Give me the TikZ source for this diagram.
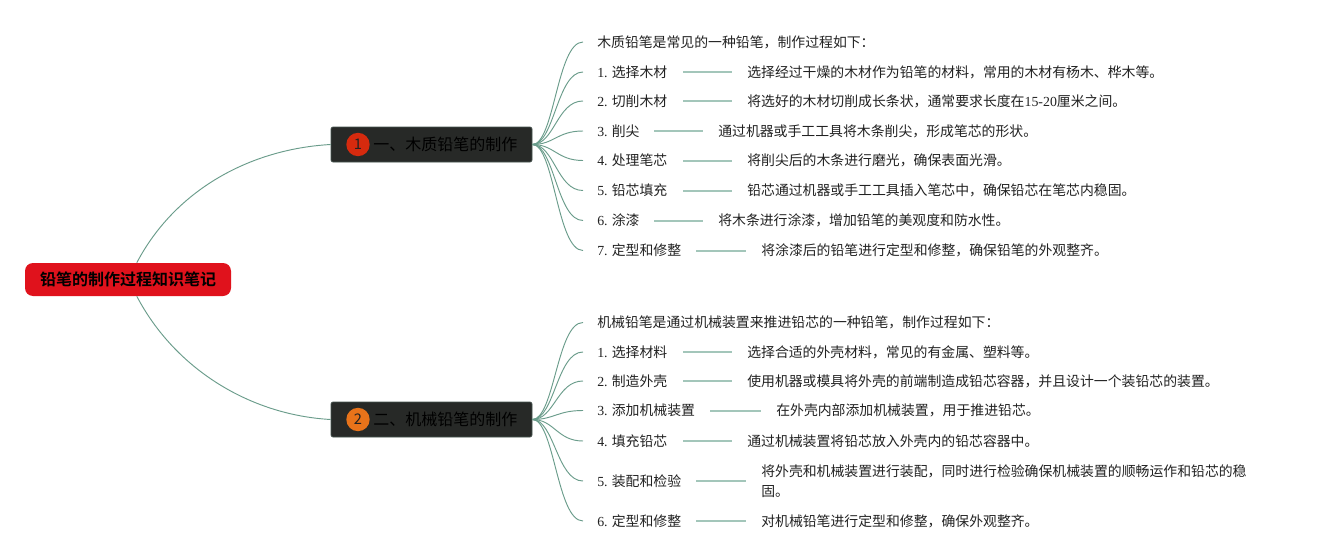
\documentclass[tikz,border=0pt]{standalone}
\usepackage{fontspec}
\setmainfont{Noto Sans CJK SC}[BoldFont={Noto Sans CJK SC Bold}]
\newfontfamily\lat{Liberation Serif}
\definecolor{rootred}{HTML}{E0121C}
\definecolor{bdark}{HTML}{272927}
\definecolor{bborder}{HTML}{46544F}
\definecolor{lnk}{HTML}{6A9C8B}
\definecolor{stepln}{HTML}{A3C6BA}
\definecolor{txt}{HTML}{222222}
\definecolor{cone}{HTML}{D62A0E}
\definecolor{ctwo}{HTML}{E8731A}
\tikzset{
  rootbox/.style={fill=rootred, rounded corners=6pt, minimum width=154.5pt, minimum height=24.75pt, inner sep=0pt, font=\fontsize{12pt}{14pt}\selectfont\bfseries, text=black},
  branchbox/.style={fill=bdark, draw=bborder, line width=0.5pt, rounded corners=1.5pt, minimum width=150.75pt, minimum height=26.25pt, inner sep=0pt},
  branchtext/.style={anchor=west, inner sep=0pt, font=\fontsize{12pt}{14pt}\selectfont, text=black},
  numcircle/.style={circle, minimum size=17.5pt, inner sep=0pt, font=\fontsize{11pt}{13pt}\selectfont, text=txt},
  child/.style={anchor=west, inner xsep=10.5pt, inner ysep=0pt, font=\fontsize{10.4pt}{15pt}\selectfont, text=txt},
  desc/.style={anchor=west, inner xsep=11.25pt, inner ysep=0pt, align=left, font=\fontsize{10.4pt}{15pt}\selectfont, text=txt},
  fan/.style={draw=lnk, line width=0.7pt},
  stepline/.style={draw=stepln, line width=1.5pt},
}
\newcommand\rowstep[6]{%
  \node[child] (l#1) at (583,#2) {#3};
  \coordinate (s#1) at (#4,#2);
  \node[desc] (d#1) at (#5-15,#2) {#6};
  \draw[stepline] (s#1) -- (d#1.west);
}
\begin{document}
\begin{tikzpicture}[x=0.75pt,y=-0.75pt]
\path[use as bounding box, fill=white] (0,0) rectangle (1321,560);

% root and branches
\node[rootbox] (root) at (128,279.5) {铅笔的制作过程知识笔记};
\node[branchbox] (b1) at (431.5,144.5) {};
\node[numcircle, fill=cone] (n1) at (358,144.5) {1};
\node[branchtext] (t1) at (373,144.5) {一、木质铅笔的制作};
\node[branchbox] (b2) at (431.5,419.5) {};
\node[numcircle, fill=ctwo] (n2) at (358,419.5) {2};
\node[branchtext] (t2) at (373,419.5) {二、机械铅笔的制作};

\draw[fan] (root) .. controls (175,190) and (250,149) .. (b1.west);
\draw[fan] (root) .. controls (175,369) and (250,415) .. (b2.west);

% branch 1 children
\node[child] (la0) at (583,42) {木质铅笔是常见的一种铅笔，制作过程如下：};
\rowstep{a1}{72}{{\lat 1.} 选择木材}{683}{747}{选择经过干燥的木材作为铅笔的材料，常用的木材有杨木、桦木等。}
\rowstep{a2}{101}{{\lat 2.} 切削木材}{683}{747}{将选好的木材切削成长条状，通常要求长度在{\lat 15-20}厘米之间。}
\rowstep{a3}{131}{{\lat 3.} 削尖}{654}{718}{通过机器或手工工具将木条削尖，形成笔芯的形状。}
\rowstep{a4}{160.5}{{\lat 4.} 处理笔芯}{683}{747}{将削尖后的木条进行磨光，确保表面光滑。}
\rowstep{a5}{190.5}{{\lat 5.} 铅芯填充}{683}{747}{铅芯通过机器或手工工具插入笔芯中，确保铅芯在笔芯内稳固。}
\rowstep{a6}{220.5}{{\lat 6.} 涂漆}{654}{718}{将木条进行涂漆，增加铅笔的美观度和防水性。}
\rowstep{a7}{250.5}{{\lat 7.} 定型和修整}{696}{761}{将涂漆后的铅笔进行定型和修整，确保铅笔的外观整齐。}
\foreach \n in {la0,la1,la2,la3,la4,la5,la6,la7}
  \draw[fan] (b1.east) .. controls +(22,0) and +(-26,0) .. (\n.west);

% branch 2 children
\node[child] (lb0) at (583,322.5) {机械铅笔是通过机械装置来推进铅芯的一种铅笔，制作过程如下：};
\rowstep{b1}{352}{{\lat 1.} 选择材料}{683}{747}{选择合适的外壳材料，常见的有金属、塑料等。}
\rowstep{b2}{381}{{\lat 2.} 制造外壳}{683}{747}{使用机器或模具将外壳的前端制造成铅芯容器，并且设计一个装铅芯的装置。}
\rowstep{b3}{410.5}{{\lat 3.} 添加机械装置}{710}{776}{在外壳内部添加机械装置，用于推进铅芯。}
\rowstep{b4}{441}{{\lat 4.} 填充铅芯}{683}{747}{通过机械装置将铅芯放入外壳内的铅芯容器中。}
\rowstep{b5}{481}{{\lat 5.} 装配和检验}{696}{761}{将外壳和机械装置进行装配，同时进行检验确保机械装置的顺畅运作和铅芯的稳\\固。}
\rowstep{b6}{521}{{\lat 6.} 定型和修整}{696}{761}{对机械铅笔进行定型和修整，确保外观整齐。}
\foreach \n in {lb0,lb1,lb2,lb3,lb4,lb5,lb6}
  \draw[fan] (b2.east) .. controls +(22,0) and +(-26,0) .. (\n.west);
\end{tikzpicture}
\end{document}
